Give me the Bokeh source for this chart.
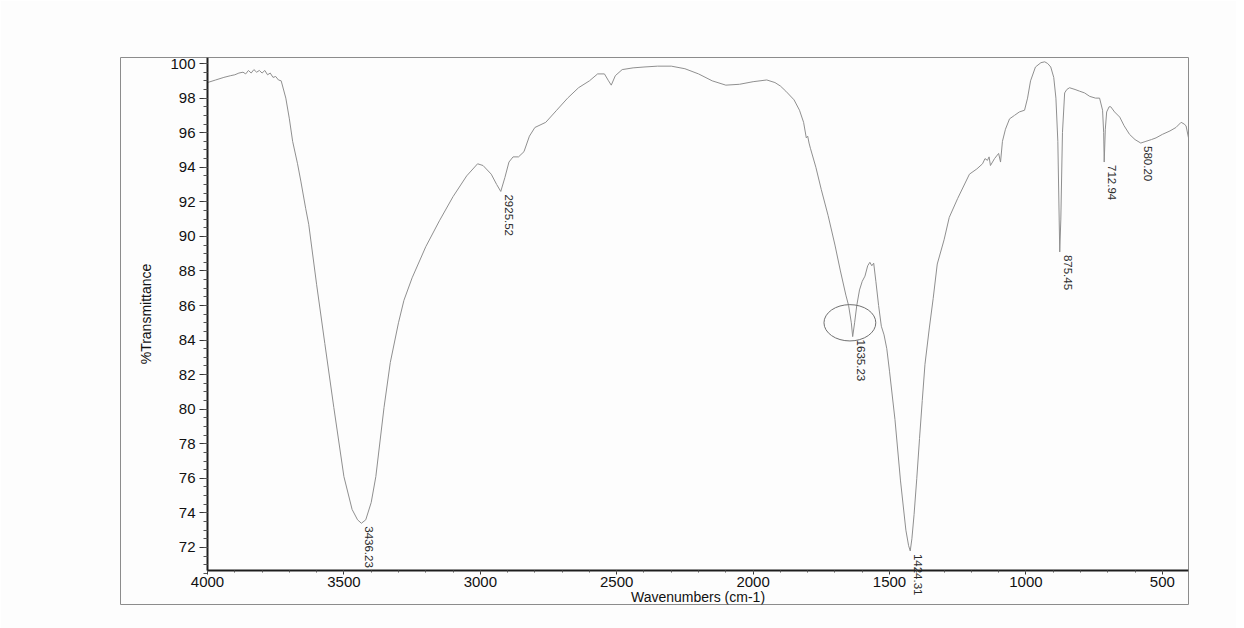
import math
from bokeh.plotting import figure
from bokeh.models import Range1d, FixedTicker, ColumnDataSource, Label
from bokeh.core.properties import value
from bokeh.embed import file_html
from bokeh.resources import INLINE

# ---------------- data ----------------
wavenumber = [
    4000, 3970, 3940, 3915, 3900, 3885, 3870, 3860, 3850, 3840, 3830, 3820, 3810, 3800,
    3790, 3780, 3770, 3760, 3750, 3740, 3730, 3713, 3700, 3688, 3670, 3658, 3640, 3629,
    3600, 3570, 3537, 3500, 3470, 3450, 3436, 3420, 3400, 3383, 3353, 3330, 3300, 3280,
    3250, 3200, 3150, 3100, 3050, 3010, 2990, 2960, 2940, 2925, 2910, 2895, 2880, 2860,
    2840, 2820, 2800, 2760, 2720, 2680, 2640, 2600, 2570, 2545, 2530, 2520, 2505, 2480,
    2440, 2400, 2350, 2300, 2250, 2200, 2150, 2100, 2050, 2000, 1950, 1920, 1900, 1880,
    1850, 1830, 1815, 1805, 1800, 1795, 1790, 1770, 1750, 1725, 1700, 1680, 1660, 1650,
    1640, 1635, 1628, 1620, 1610, 1600, 1590, 1580, 1572, 1565, 1558, 1550, 1540, 1530,
    1520, 1510, 1500, 1480, 1460, 1440, 1430, 1424, 1418, 1410, 1400, 1390, 1380, 1370,
    1354, 1340, 1325, 1300, 1281, 1250, 1207, 1180, 1159, 1150, 1141, 1135, 1130, 1115,
    1100, 1093, 1086, 1075, 1060, 1042, 1024, 1005, 994, 983, 965, 945, 931, 920,
    909, 898, 890, 883, 876, 872, 866, 858, 850, 840, 820, 803, 785, 766,
    745, 730, 719, 715, 713, 709, 704, 695, 689, 675, 656, 640, 620, 600,
    579, 560, 540, 523, 500, 472, 450, 431, 420, 413, 404,
]
transmittance = [
    98.9, 99.05, 99.2, 99.3, 99.35, 99.45, 99.5, 99.4, 99.6, 99.45, 99.65, 99.5, 99.6, 99.45,
    99.6, 99.35, 99.45, 99.2, 99.25, 99.05, 99.0, 98.0, 96.8, 95.5, 94.2, 93.2, 91.6, 90.7,
    87.2, 83.8, 80.1, 76.1, 74.2, 73.6, 73.4, 73.6, 74.6, 76.1, 80.1, 82.7, 85.0, 86.3,
    87.6, 89.4, 90.9, 92.3, 93.5, 94.2, 94.1, 93.6, 93.0, 92.6, 93.4, 94.3, 94.6, 94.6,
    94.9, 95.8, 96.3, 96.6, 97.3, 98.0, 98.6, 99.0, 99.4, 99.4, 99.0, 98.75, 99.3, 99.65,
    99.75, 99.8, 99.85, 99.85, 99.7, 99.4, 99.0, 98.75, 98.8, 98.95, 99.05, 98.9, 98.7, 98.4,
    97.9, 97.3, 96.6, 95.7, 95.8, 95.4, 95.1, 94.0, 92.7, 91.2, 89.5, 88.0, 86.6, 86.0,
    85.0, 84.2, 85.0, 86.0, 86.9, 87.4, 87.7, 88.3, 88.5, 88.3, 88.45, 87.4, 86.0, 84.8,
    84.3, 83.5, 82.2, 79.4, 75.9, 73.0, 72.1, 71.8, 72.5, 73.9, 76.0, 78.3, 80.5, 82.6,
    84.7, 86.4, 88.4, 89.8, 91.1, 92.2, 93.6, 93.9, 94.2, 94.5, 94.4, 94.6, 94.1, 94.5,
    94.8, 94.3, 95.5, 96.2, 96.8, 97.0, 97.2, 97.3, 98.0, 99.0, 99.8, 100.05, 100.1, 100.0,
    99.8, 99.2, 98.0, 95.5, 89.1, 91.0, 96.0, 98.3, 98.5, 98.6, 98.5, 98.4, 98.3, 98.1,
    98.0, 98.0, 97.3, 96.0, 94.3, 96.2, 97.2, 97.5, 97.5, 97.2, 96.9, 96.4, 95.9, 95.6,
    95.4, 95.5, 95.6, 95.7, 95.9, 96.1, 96.3, 96.6, 96.5, 96.4, 95.7,
]

peak_wavenumber = [3436.23, 2925.52, 1635.23, 1424.31, 875.45, 712.94, 580.20]
peak_transmittance = [73.4, 92.6, 84.2, 71.8, 89.1, 94.3, 95.4]
peak_labels = ["3436.23", "2925.52", "1635.23", "1424.31", "875.45", "712.94", "580.20"]

x_ticks = [4000, 3500, 3000, 2500, 2000, 1500, 1000, 500]
x_minor_ticks = list(range(4000, 399, -100))
y_ticks = [72, 74, 76, 78, 80, 82, 84, 86, 88, 90, 92, 94, 96, 98, 100]
y_minor_ticks = [70.5 + 0.5 * i for i in range(60)]

x_axis_label = "Wavenumbers (cm-1)"
y_axis_label = "%Transmittance"
highlighted_peak = "1635.23"

# axis extents of the printed plot
X_HI, X_LO = 4000, 404
Y_LO, Y_HI = 70.67, 100.35
# the printout frame extends left of and below the axes
X_FRAME_LEFT = 4319
Y_FRAME_BOTTOM = 68.70

# ---------------- figure ----------------
FONT = "Liberation Sans"
p = figure(
    width=1236, height=628,
    x_range=Range1d(X_FRAME_LEFT, X_LO), y_range=Range1d(Y_FRAME_BOTTOM, Y_HI),
    output_backend="svg", toolbar_location=None,
    min_border_left=120, min_border_right=48, min_border_top=57, min_border_bottom=24,
    background_fill_color="#fdfdfd", border_fill_color="#fdfdfd",
)
p.grid.visible = False
p.outline_line_color = "#8c8c8c"
p.outline_line_width = 1

xa = p.xaxis[0]
xa.ticker = FixedTicker(ticks=x_ticks, minor_ticks=x_minor_ticks)
xa.fixed_location = Y_LO
xa.bounds = (X_LO, X_HI)
ya = p.yaxis[0]
ya.ticker = FixedTicker(ticks=y_ticks, minor_ticks=y_minor_ticks)
ya.fixed_location = X_HI
ya.bounds = (Y_LO, Y_HI)
ya.axis_label = y_axis_label

for ax in (xa, ya):
    ax.axis_line_color = "#1e1e1e"
    ax.axis_line_width = 2
    ax.major_tick_line_color = "#333333"
    ax.minor_tick_line_color = "#555555"
    ax.major_tick_in = 0
    ax.minor_tick_in = 0
    ax.major_label_text_font = FONT
    ax.major_label_text_font_size = "15px"
    ax.major_label_text_color = "#111111"
    ax.axis_label_text_font = FONT
    ax.axis_label_text_font_size = "14px"
    ax.axis_label_text_font_style = "normal"
    ax.axis_label_text_color = "#111111"

xa.major_tick_out = 4
xa.minor_tick_out = 2
xa.major_label_standoff = 3
ya.major_tick_out = 8
ya.minor_tick_out = 4
ya.major_label_standoff = 4
ya.axis_label_standoff = 13

# x-axis title, centred under the axis
p.add_layout(Label(x=(X_HI + X_LO) / 2, y=Y_LO, y_offset=-27, text=x_axis_label,
                   text_align="center", text_baseline="middle",
                   text_font=FONT, text_font_size="14px", text_color="#111111"))

# spectrum
p.line(wavenumber, transmittance, line_color="#8f8f8f", line_width=1)

# peak labels (rotated, reading top to bottom)
src = ColumnDataSource(dict(x=peak_wavenumber, y=peak_transmittance, t=peak_labels))
p.text(x="x", y="y", text="t", source=src, angle=-math.pi / 2,
       text_align="left", text_baseline="bottom", x_offset=4, y_offset=3,
       text_font=value(FONT), text_font_size="11.5px", text_color="#2a2a2a")

# hand-drawn ellipse around the highlighted peak
i = peak_labels.index(highlighted_peak)
p.ellipse(x=[peak_wavenumber[i] + 10], y=[peak_transmittance[i] + 0.8],
          width=190, height=2.1, fill_color=None, line_color="#707070", line_width=1)

open("out.html", "w").write(file_html(p, INLINE))
